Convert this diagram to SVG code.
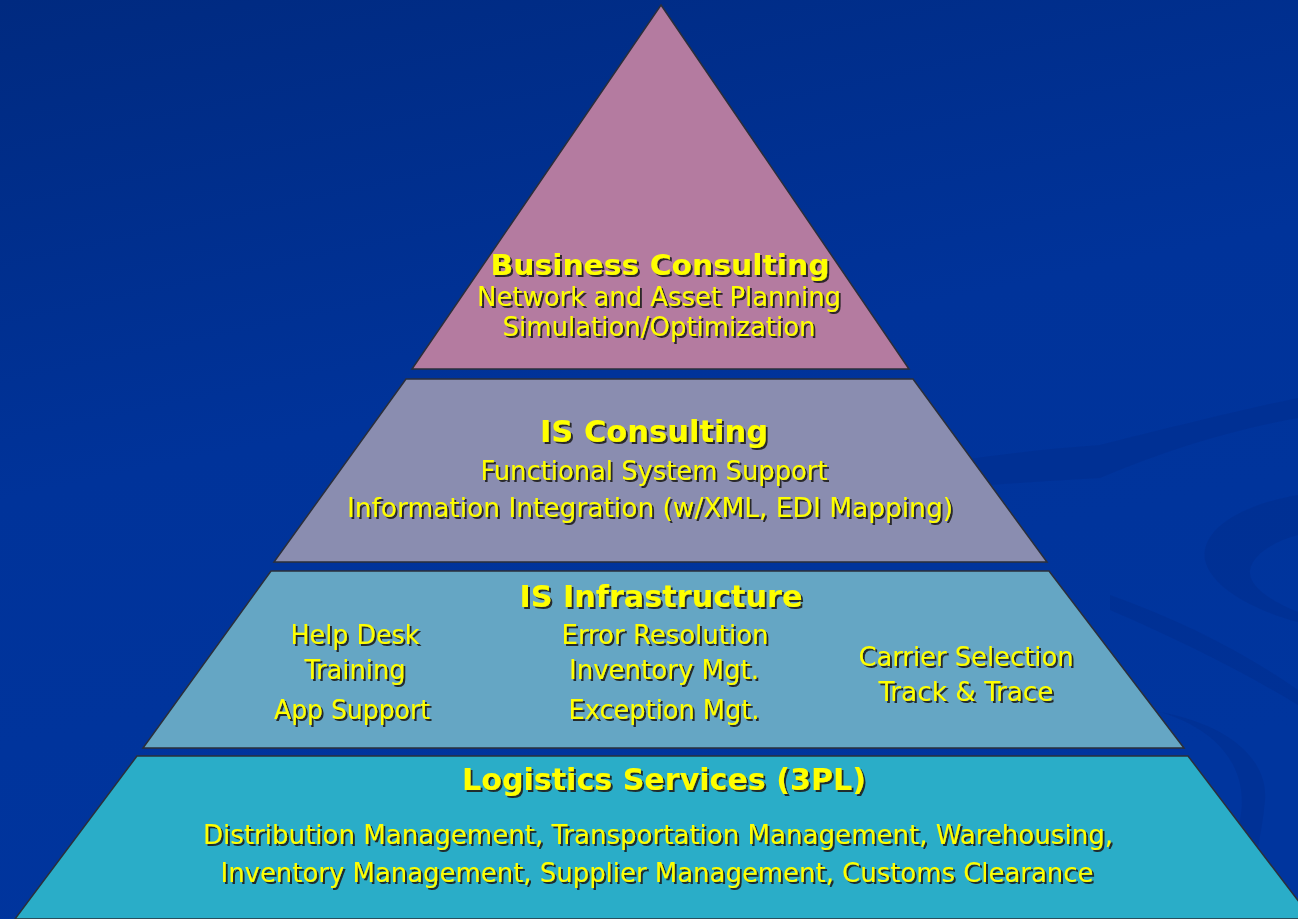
<svg xmlns="http://www.w3.org/2000/svg" width="1298" height="919" viewBox="0 0 1298 919">
<defs>
<linearGradient id="bg" x1="0" y1="0" x2="0.3" y2="1">
<stop offset="0" stop-color="#002A80"/>
<stop offset="0.5" stop-color="#00339A"/>
<stop offset="1" stop-color="#00359E"/>
</linearGradient>
<filter id="sh" x="-5%" y="-20%" width="110%" height="150%">
<feDropShadow dx="2" dy="2" stdDeviation="0.4" flood-color="#1a1a1a" flood-opacity="0.9"/>
</filter>
<style>
.lay{stroke:#2b2f3a;stroke-width:1.5;stroke-linejoin:miter}
.t{font-family:"DejaVu Sans Condensed","DejaVu Sans",Tahoma,sans-serif;fill:#FFFF00;text-anchor:middle;filter:url(#sh)}
.b{font-size:30px;font-weight:bold}
.n{font-size:27px}
.sw{fill:#002B86;opacity:0.35}
</style>
</defs>
<rect x="0" y="0" width="1298" height="919" fill="url(#bg)"/>
<g id="background-swirls">
<path class="sw" d="M1100,445 C1160,430 1240,410 1298,398 L1298,418 C1240,428 1170,448 1100,478 Z"/>
<path class="sw" d="M900,470 C970,458 1030,450 1100,445 L1100,478 C1030,482 970,486 900,492 Z" opacity="0.15"/>
<path class="sw" d="M1298,495 C1240,505 1200,530 1205,560 C1212,590 1260,612 1298,622 L1298,612 C1268,600 1248,585 1250,570 C1253,555 1272,542 1298,535 Z"/>
<path class="sw" d="M1110,595 C1180,620 1240,650 1298,690 L1298,705 C1240,670 1180,640 1110,610 Z" opacity="0.2"/>
<path class="sw" d="M1160,712 C1220,730 1250,770 1240,820 C1232,860 1225,890 1228,919 L1250,919 C1248,880 1262,840 1265,800 C1268,760 1230,725 1160,712 Z"/>
</g>
<g id="layer-business-consulting">
<polygon class="lay" points="661,5 909,369 412,369" fill="#B47BA0"/>
<text class="t b" x="660" y="275" textLength="339" lengthAdjust="spacingAndGlyphs" style="font-size:28px">Business Consulting</text>
<text class="t n" x="659" y="306" textLength="364" lengthAdjust="spacingAndGlyphs">Network and Asset Planning</text>
<text class="t n" x="659" y="336" textLength="313" lengthAdjust="spacingAndGlyphs">Simulation/Optimization</text>
</g>
<g id="layer-is-consulting">
<polygon class="lay" points="406,379 913,379 1047,562 274,562" fill="#8A8DB0"/>
<text class="t b" x="654" y="442" textLength="228" lengthAdjust="spacingAndGlyphs">IS Consulting</text>
<text class="t n" x="654" y="480" textLength="347" lengthAdjust="spacingAndGlyphs">Functional System Support</text>
<text class="t n" x="650" y="517" textLength="606" lengthAdjust="spacingAndGlyphs">Information Integration (w/XML, EDI Mapping)</text>
</g>
<g id="layer-is-infrastructure">
<polygon class="lay" points="271,571 1049,571 1184,748 143,748" fill="#65A6C4"/>
<text class="t b" x="661" y="607" textLength="283" lengthAdjust="spacingAndGlyphs">IS Infrastructure</text>
<text class="t n" x="355" y="644" textLength="129" lengthAdjust="spacingAndGlyphs">Help Desk</text>
<text class="t n" x="355" y="679" textLength="101" lengthAdjust="spacingAndGlyphs">Training</text>
<text class="t n" x="352" y="719" textLength="156" lengthAdjust="spacingAndGlyphs">App Support</text>
<text class="t n" x="665" y="644" textLength="207" lengthAdjust="spacingAndGlyphs">Error Resolution</text>
<text class="t n" x="664" y="679" textLength="190" lengthAdjust="spacingAndGlyphs">Inventory Mgt.</text>
<text class="t n" x="664" y="719" textLength="191" lengthAdjust="spacingAndGlyphs">Exception Mgt.</text>
<text class="t n" x="966" y="666" textLength="215" lengthAdjust="spacingAndGlyphs">Carrier Selection</text>
<text class="t n" x="966" y="701" textLength="175" lengthAdjust="spacingAndGlyphs">Track &amp; Trace</text>
</g>
<g id="layer-logistics-services">
<polygon class="lay" points="137,756 1188,756 1312,919 15,919" fill="#2AADC8"/>
<text class="t b" x="664" y="790" textLength="404" lengthAdjust="spacingAndGlyphs">Logistics Services (3PL)</text>
<text class="t n" x="658" y="844" textLength="910" lengthAdjust="spacingAndGlyphs">Distribution Management, Transportation Management, Warehousing,</text>
<text class="t n" x="657" y="882" textLength="873" lengthAdjust="spacingAndGlyphs">Inventory Management, Supplier Management, Customs Clearance</text>
</g>
<g id="connectors"/>
</svg>
